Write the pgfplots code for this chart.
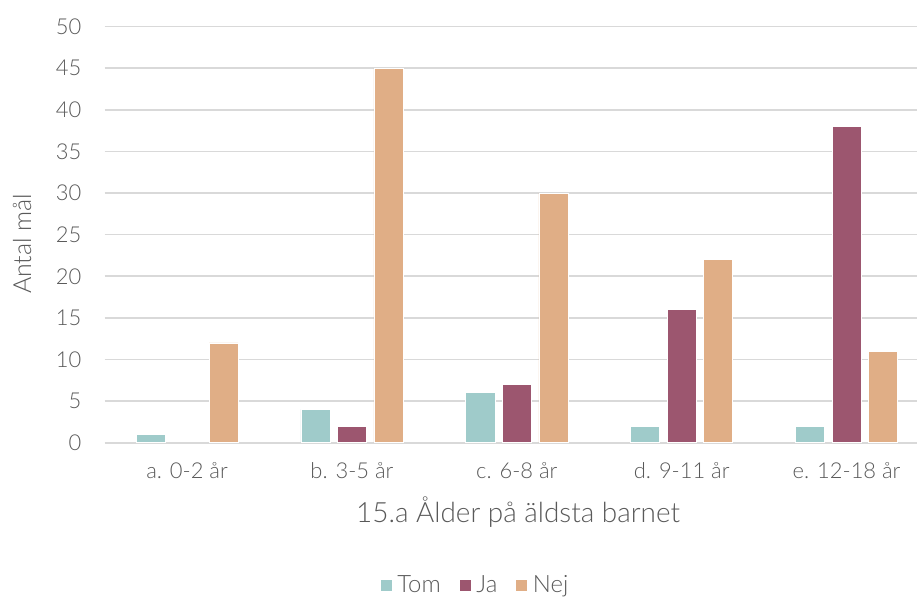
\documentclass[border=0pt]{standalone}
\usepackage{pgfplots}
\pgfplotsset{compat=1.18}
\usepackage{fontspec}
\setmainfont{Lato}[UprightFont={* Light}]
\definecolor{tom}{HTML}{9FCBCA}
\definecolor{ja}{HTML}{9C566F}
\definecolor{nej}{HTML}{E0AE86}
\definecolor{gridc}{HTML}{D9D9D9}
\definecolor{txt}{HTML}{595959}
\begin{document}
\begin{tikzpicture}
\useasboundingbox (0,0) rectangle (918bp,597bp);
\begin{axis}[
  at={(104.6bp,154.3bp)}, anchor=south west,
  scale only axis, width=812.4bp, height=416bp,
  xmin=-0.5, xmax=4.427, ymin=0, ymax=50,
  ytick={0,5,...,50},
  xtick={0,1,2,3,4},
  xticklabels={a. 0-2 år, b. 3-5 år, c. 6-8 år, d. 9-11 år, e. 12-18 år},
  /pgf/number format/assume math mode=true,
  ymajorgrids, grid style={gridc, line width=1.6bp},
  axis line style={draw=none},
  major tick length=0pt,
  tick label style={font=\fontsize{22}{26}\selectfont, text=txt},
  yticklabel style={inner sep=0pt, anchor=east, xshift=-23bp},
  xticklabel style={inner sep=0pt, anchor=north, yshift=-20bp},
  xlabel={15.a Ålder på äldsta barnet},
  xlabel style={at={(axis description cs:0.509,-0.1666)}, anchor=center, font=\fontsize{28}{32}\selectfont, text=txt},
  ylabel={Antal mål},
  ylabel style={at={(axis description cs:-0.1017,0.478)}, anchor=center, rotate=0, font=\fontsize{25}{29}\selectfont, text=txt},
  ybar, bar width=0.176,
  legend style={at={(axis description cs:0.456,-0.342)}, anchor=center, draw=none, legend columns=3, font=\fontsize{24}{28}\selectfont, text=txt,
    /tikz/every even column/.append style={column sep=16bp},
    /tikz/every odd column/.append style={column sep=3bp}},
  legend image code/.code={\fill[#1] (0bp,-6bp) rectangle (12bp,6bp);},
]
\addplot[fill=tom, draw=white, line width=0.6bp, bar shift=-0.2215] coordinates {(0,1) (1,4) (2,6) (3,2) (4,2)};
\addplot[fill=ja, draw=white, line width=0.6bp, bar shift=0] coordinates {(1,2) (2,7) (3,16) (4,38)};
\addplot[fill=nej, draw=white, line width=0.6bp, bar shift=0.2215] coordinates {(0,12) (1,45) (2,30) (3,22) (4,11)};
\legend{Tom, Ja, Nej}
\end{axis}
\end{tikzpicture}
\end{document}
